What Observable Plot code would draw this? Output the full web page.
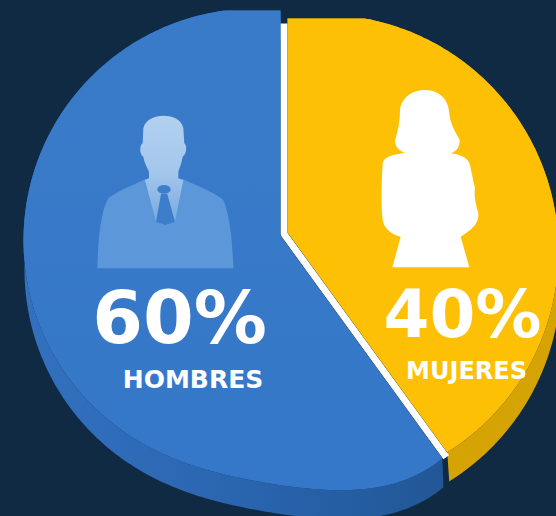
<!DOCTYPE html>
<html>
<head>
<meta charset="utf-8">
<script src="https://cdn.jsdelivr.net/npm/d3@7"></script>
<script src="https://cdn.jsdelivr.net/npm/@observablehq/plot@0.6"></script>
<style>
html,body{margin:0;padding:0;background:#102a43;overflow:hidden}
svg{display:block}
</style>
</head>
<body>
<div id="chart"></div>
<script>
const categories = ["HOMBRES", "MUJERES"];
const shares = [60, 40];
const percentLabels = ["60%", "40%"];

const W = 556, H = 516, DEPTH = 29;
const womenTurn = shares[1] / 100 * 360;

function slice(apex, rim, from, to) {
  const pts = [apex];
  for (let a = from; a <= to + 1e-6; a += (to - from) / 240) {
    const t = a * Math.PI / 180, sx = Math.sin(t), sy = -Math.cos(t);
    let lo = 0, hi = 500;
    for (let i = 0; i < 30; i++) {
      const m = (lo + hi) / 2;
      if (rim(apex[0] + m * sx, apex[1] + m * sy)) lo = m; else hi = m;
    }
    pts.push([apex[0] + lo * sx, apex[1] + lo * sy]);
  }
  return pts;
}
const blueRim = (x, y) => {
  const dx = x - 255, dy = y - 240;
  let d = Math.atan2(dy, dx) * 180 / Math.PI - 49;
  d = ((d + 540) % 360) - 180;
  return y >= 10 && Math.hypot(dx, dy) < 232 + 55 * Math.exp(-((d / 30) ** 2));
};
const yellowRim = (x, y) => y >= 18 && Math.hypot(x - 321, y - 251) < 237;

const blueFace = slice([280, 235], blueRim, womenTurn, 360);
const yellowFace = slice([287, 232], yellowRim, 0, womenTurn);
const wall = (face, dx) => {
  const arc = face.slice(1);
  return arc.concat(arc.slice().reverse().map(([x, y]) => [x + dx, y + DEPTH]));
};

const t = womenTurn * Math.PI / 180;
const gap = [[283.5, 23], [283.5, 233.5], [283.5 + 276 * Math.sin(t), 233.5 - 276 * Math.cos(t)]];

const poly = (pts, fill) => Plot.line(pts, {x: d => d[0], y: d => d[1], fill, stroke: "none", curve: "linear-closed"});

const defs = () => {
  const g = d3.create("svg:g");
  const d = g.append("defs");
  const grad = (id, x2, y2, stops) => {
    const l = d.append("linearGradient").attr("id", id).attr("x1", 0).attr("y1", 0).attr("x2", x2).attr("y2", y2);
    stops.forEach(([o, c]) => l.append("stop").attr("offset", o).attr("stop-color", c));
  };
  grad("blueSide", 1, 0, [[0, "#3371bf"], [0.5, "#2a65b0"], [1, "#215796"]]);
  grad("blueTop", 0, 1, [[0, "#3a7bc9"], [1, "#3577c8"]]);
  grad("manHead", 0, 1, [[0, "#b2d1f0"], [0.55, "#a3c6eb"], [1, "#77a9e0"]]);
  return g.node();
};

const man = () => {
  const g = d3.create("svg:g").attr("transform", "translate(80,100) scale(0.3333)");
  g.append("path").attr("fill", "#5c97d9")
    .attr("d", "M52 505C55 420 60 340 85 295C110 275 160 255 195 238L310 238C345 255 400 275 430 300C450 345 458 430 460 505Z");
  g.append("path").attr("fill", "url(#manHead)")
    .attr("d", "M190 85C195 58 225 47 250 47C280 47 305 58 310 85L313 130C322 135 320 165 308 170C305 190 298 205 295 215L295 235L310 240L285 365L228 365L195 240L207 235L207 215C200 200 192 185 190 170C178 165 178 135 188 130Z");
  g.append("path").attr("fill", "#3d7ecb")
    .attr("d", "M243 282L262 282L285 365L256 375L228 365Z");
  g.append("ellipse").attr("fill", "#3d7ecb").attr("cx", 252).attr("cy", 268).attr("rx", 20).attr("ry", 13);
  return g.node();
};

const woman = () => d3.create("svg:path")
  .attr("transform", "translate(370,80) scale(0.3333)")
  .attr("fill", "#ffffff")
  .attr("d", "M90 90C95 50 130 30 165 30C205 30 235 55 238 100C240 130 255 155 268 178C272 200 258 215 243 220C265 222 295 232 300 255C305 280 312 310 315 325C312 345 315 365 325 400C328 430 305 450 272 470L298 562L67 562L92 470C65 465 42 445 38 420C32 370 35 300 38 250C42 232 60 225 105 218C85 212 72 195 76 178C85 150 90 120 90 90Z")
  .node();

const font = "DejaVu Sans";
const chart = Plot.plot({
  width: W, height: H,
  margin: 0,
  style: {background: "#102a43"},
  x: {domain: [0, W], range: [0, W], axis: null},
  y: {domain: [0, H], range: [0, H], axis: null},
  marks: [
    defs,
    poly(wall(blueFace, 1), "url(#blueSide)"),
    poly(wall(yellowFace, 2), "#d6a304"),
    Plot.line(gap, {x: d => d[0], y: d => d[1], stroke: "#ffffff", strokeWidth: 7, strokeLinejoin: "miter", strokeLinecap: "butt"}),
    poly(blueFace, "url(#blueTop)"),
    poly(yellowFace, "#fec004"),
    man,
    woman,
    Plot.text([percentLabels[0]], {x: 179, y: 319, text: d => d, fill: "#fff", fontSize: 73, fontWeight: 700, fontFamily: font}),
    Plot.text([percentLabels[1]], {x: 462, y: 315, text: d => d, fill: "#fff", fontSize: 66, fontWeight: 700, fontFamily: font}),
    Plot.text([categories[0]], {x: 192.5, y: 379, text: d => d, fill: "#fff", fontSize: 25, fontWeight: 700, fontFamily: font}),
    Plot.text([categories[1]], {x: 466, y: 371, text: d => d, fill: "#fff", fontSize: 24, fontWeight: 700, fontFamily: font})
  ]
});
document.getElementById("chart").append(chart);
</script>
</body>
</html>
